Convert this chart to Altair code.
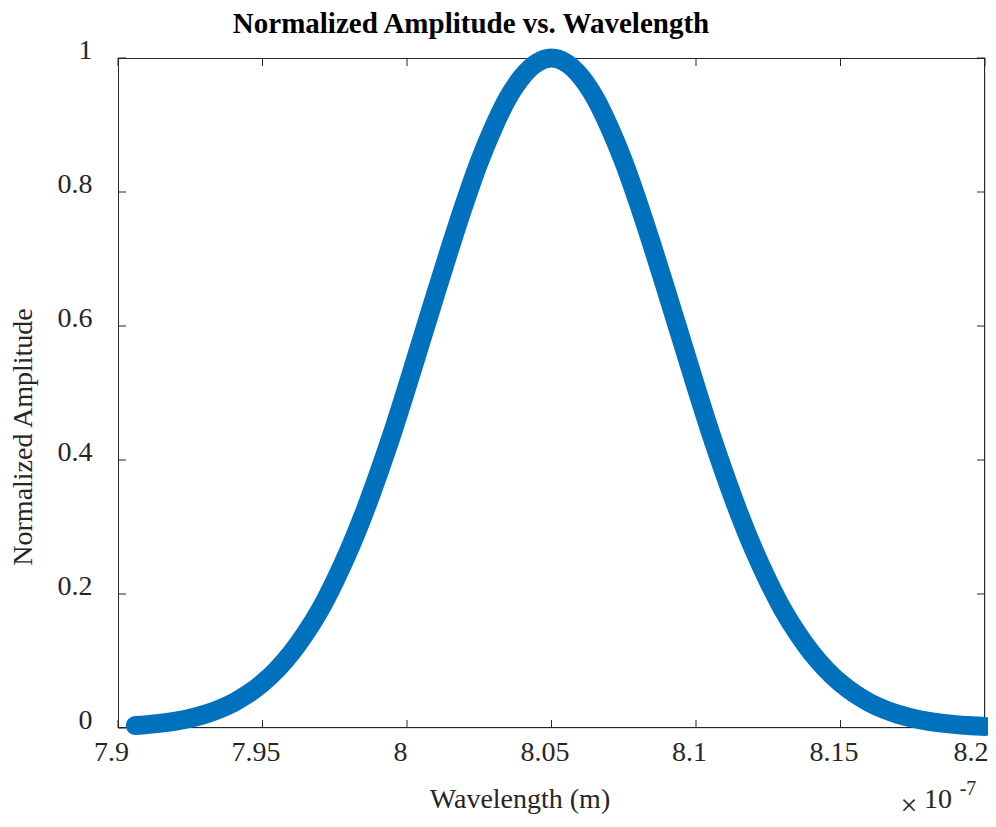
import altair as alt
import pandas as pd

# Wavelength in units of 1e-7 m
wavelength = [7.906, 7.910, 7.915, 7.920, 7.925, 7.930, 7.935, 7.940, 7.945, 7.950,
              7.955, 7.960, 7.965, 7.970, 7.975, 7.980, 7.985, 7.990, 7.995, 8.000,
              8.005, 8.010, 8.015, 8.020, 8.025, 8.030, 8.035, 8.040, 8.045, 8.050,
              8.055, 8.060, 8.065, 8.070, 8.075, 8.080, 8.085, 8.090, 8.095, 8.100,
              8.105, 8.110, 8.115, 8.120, 8.125, 8.130, 8.135, 8.140, 8.145, 8.150,
              8.155, 8.160, 8.165, 8.170, 8.175, 8.180, 8.185, 8.190, 8.195, 8.200]
amplitude = [0.0037, 0.0050, 0.0073, 0.0104, 0.0147, 0.0204, 0.0280, 0.0380, 0.0508, 0.0670,
             0.0873, 0.112, 0.142, 0.177, 0.219, 0.266, 0.319, 0.378, 0.441, 0.509,
             0.579, 0.649, 0.718, 0.784, 0.845, 0.897, 0.941, 0.973, 0.993, 1.000,
             0.993, 0.973, 0.941, 0.897, 0.845, 0.784, 0.718, 0.649, 0.579, 0.509,
             0.441, 0.378, 0.319, 0.266, 0.219, 0.177, 0.142, 0.112, 0.0873, 0.0670,
             0.0508, 0.0380, 0.0280, 0.0204, 0.0147, 0.0104, 0.0073, 0.0050, 0.0035, 0.0023]

x_ticks = [7.9, 7.95, 8.0, 8.05, 8.1, 8.15, 8.2]
y_ticks = [0, 0.2, 0.4, 0.6, 0.8, 1.0]

title_text = "Normalized Amplitude vs. Wavelength"
x_title = "Wavelength (m)"
y_title = "Normalized Amplitude"

FONT = "Liberation Serif"
W, H = 867, 670
AX = "#262626"

df = pd.DataFrame({"wl": wavelength, "amp": amplitude})
xt = pd.DataFrame({"v": x_ticks})
yt = pd.DataFrame({"v": y_ticks})
one = pd.DataFrame({"a": [0]})

xscale = alt.Scale(domain=[7.9, 8.2], nice=False, zero=False)
yscale = alt.Scale(domain=[0, 1], nice=False)

xaxis = alt.Axis(values=x_ticks, format="~g", ticks=False, domain=False, grid=False,
                 labelFont=FONT, labelFontSize=28, labelColor=AX, labelPadding=10,
                 labelAlign={"expr": "datum.value > 8.19 ? 'right' : 'center'"},
                 labelOffset={"expr": "datum.value > 8.19 ? 3 : -7"},
                 labelFlush=False, title=None)
yaxis = alt.Axis(values=y_ticks, format="~g", ticks=False, domain=False, grid=False,
                 labelFont=FONT, labelFontSize=28, labelColor=AX, labelPadding=26,
                 labelOffset=-8, labelFlush=False, title=None)

line = alt.Chart(df).mark_line(color="#0072BD", strokeWidth=19, strokeCap="round",
                               strokeJoin="round", interpolate="monotone").encode(
    x=alt.X("wl:Q", scale=xscale, axis=xaxis),
    y=alt.Y("amp:Q", scale=yscale, axis=yaxis),
)

tb = alt.Chart(xt).mark_rule(color=AX, strokeWidth=1).encode(
    x=alt.X("v:Q", scale=xscale, axis=xaxis), y=alt.value(H), y2=alt.value(H - 8))
tt = alt.Chart(xt).mark_rule(color=AX, strokeWidth=1).encode(
    x=alt.X("v:Q", scale=xscale, axis=xaxis), y=alt.value(0), y2=alt.value(8))
tl = alt.Chart(yt).mark_rule(color=AX, strokeWidth=1).encode(
    y=alt.Y("v:Q", scale=yscale, axis=yaxis), x=alt.value(0), x2=alt.value(8))
tr = alt.Chart(yt).mark_rule(color=AX, strokeWidth=1).encode(
    y=alt.Y("v:Q", scale=yscale, axis=yaxis), x=alt.value(W), x2=alt.value(W - 8))

# frame
fb = alt.Chart(one).mark_rule(color=AX, strokeWidth=1).encode(
    x=alt.value(0), x2=alt.value(W), y=alt.value(H - 0.5))
ft = alt.Chart(one).mark_rule(color=AX, strokeWidth=1).encode(
    x=alt.value(0), x2=alt.value(W), y=alt.value(0.5))
fl = alt.Chart(one).mark_rule(color=AX, strokeWidth=1).encode(
    y=alt.value(0), y2=alt.value(H), x=alt.value(0.5))
fr = alt.Chart(one).mark_rule(color=AX, strokeWidth=1).encode(
    y=alt.value(0), y2=alt.value(H), x=alt.value(W - 0.5))

def txt(s, x, y, size, weight="normal", angle=0, color=AX):
    return alt.Chart(one).mark_text(text=s, font=FONT, fontSize=size, fontWeight=weight,
                                    angle=angle, color=color, align="center",
                                    baseline="middle").encode(x=alt.value(x), y=alt.value(y))

title = txt(title_text, 353, -34, 29, weight="bold", color="#000000")
xtitle = txt(x_title, 402, 742, 28)
ytitle = txt(y_title, -94, 379, 28, angle=270)
times = txt("\u00d7", 791, 748, 30)
ten = txt("10", 820, 742, 28)
exp = txt("-7", 850, 731, 20)

chart = alt.layer(fb, ft, fl, fr, tb, tt, tl, tr, line,
                  title, xtitle, ytitle, times, ten, exp).properties(
    width=W, height=H,
    autosize=alt.AutoSizeParams(type="none"),
    padding={"left": 110, "top": 50, "right": 3, "bottom": 92},
).configure_view(strokeWidth=0).configure_axis(
    labelFont=FONT, labelFontSize=28, labelColor=AX
).configure(background="white")

chart.save("out.html", embed_options={"renderer": "svg", "actions": False})
